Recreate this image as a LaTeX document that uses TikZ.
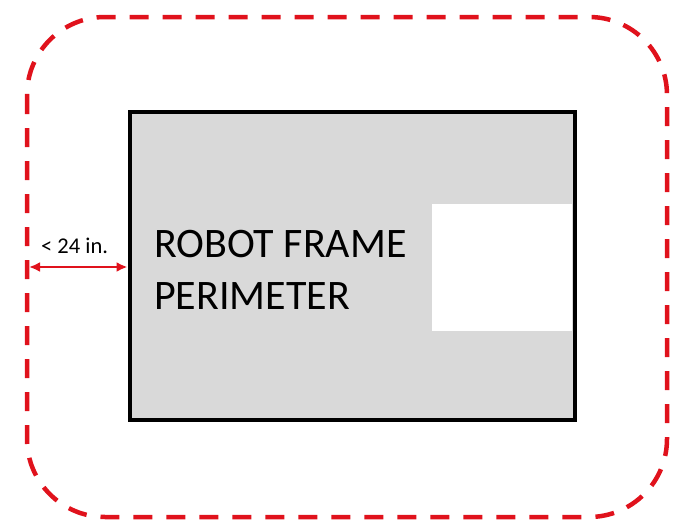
\documentclass[tikz,border=0pt]{standalone}
\usepackage{fontspec}
\setmainfont{Carlito}
\usetikzlibrary{arrows.meta}
\definecolor{dashred}{RGB}{224,18,28}
\definecolor{framegray}{RGB}{217,217,217}
\tikzset{
  outline/.style={draw=dashred, line width=4.5pt, dash pattern=on 19pt off 14pt, rounded corners=78pt},
  frame/.style={draw=black, line width=4pt},
  measure/.style={draw=dashred, line width=2.5pt, {Latex[length=11pt,width=10pt]}-{Latex[length=11pt,width=10pt]}},
  lbl/.style={inner sep=0pt, anchor=base west, text=black}
}
\begin{document}
\begin{tikzpicture}[x=1pt,y=-1pt]
\useasboundingbox (0,0) rectangle (686,530);
\draw[outline] (27,17) rectangle (667,517);
\fill[framegray] (129.5,111.5) rectangle (575,420);
\fill[white] (432,204) rectangle (572,331);
\draw[frame] (129.5,111.5) rectangle (575,420);
\coordinate (outer) at (29,267);
\coordinate (inner) at (127.5,267);
\draw[measure] (outer) -- (inner);
\node[lbl, font=\fontsize{22.5}{26}\selectfont] (dist) at (41,253) {< 24 in.};
\node[lbl, font=\fontsize{42}{48}\selectfont] (t1) at (154,257) {ROBOT FRAME};
\node[lbl, font=\fontsize{42}{48}\selectfont] (t2) at (154,309) {PERIMETER};
\end{tikzpicture}
\end{document}
